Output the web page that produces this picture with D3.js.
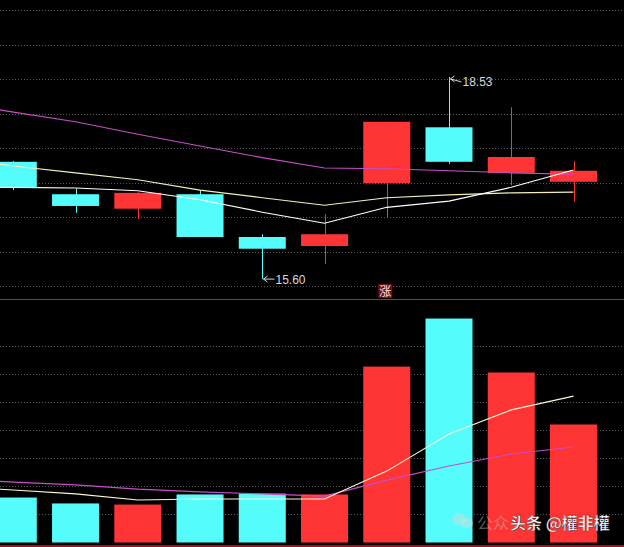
<!DOCTYPE html>
<html>
<head>
<meta charset="utf-8">
<script src="https://cdn.jsdelivr.net/npm/d3@7/dist/d3.min.js"></script>
<style>
  html, body { margin: 0; padding: 0; background: #000; }
  svg { display: block; }
</style>
</head>
<body>
<svg id="chart" width="624" height="547"></svg>
<script>
// ---- data ----
const days = [1, 2, 3, 4, 5, 6, 7, 8, 9, 10];
const openP  = [17.30, 16.83, 16.62, 16.83, 16.21, 16.08, 16.99, 17.80, 17.14, 17.01];
const closeP = [16.93, 16.66, 16.85, 16.21, 16.04, 16.25, 17.88, 17.30, 17.37, 17.17];
const highP  = [17.31, 16.91, 16.86, 16.89, 16.25, 16.54, 17.88, 18.53, 18.09, 17.31];
const lowP   = [16.89, 16.56, 16.47, 16.21, 15.60, 15.82, 16.50, 17.27, 16.96, 16.72];
const volume = [1.60, 1.39, 1.35, 1.71, 1.74, 1.71, 6.26, 7.97, 6.05, 4.20];
// moving averages: first value belongs to the day before the first visible one
const maDays = [0, 1, 2, 3, 4, 5, 6, 7, 8, 9, 10];
const ma5  = [16.93, 16.93, 16.92, 16.88, 16.75, 16.57, 16.41, 16.64, 16.73, 16.93, 17.18];
const ma10 = [17.36, 17.24, 17.14, 17.04, 16.89, 16.78, 16.67, 16.78, 16.82, 16.85, 16.86];
const ma20 = [18.17, 18.02, 17.88, 17.70, 17.53, 17.36, 17.21, 17.20, 17.17, 17.14, 17.12];
const volMa5  = [1.98, 1.87, 1.73, 1.51, 1.55, 1.55, 1.55, 2.54, 3.86, 4.72, 5.21];
const volMa10 = [2.26, 2.15, 2.05, 1.90, 1.80, 1.73, 1.65, 2.22, 2.72, 3.15, 3.40];
const priceTicks = [15.5, 16, 16.5, 17, 17.5, 18, 18.5, 19, 19.5];
const volTicks = [1, 2, 3, 4, 5, 6, 7];
const panelLabel = "涨";

// ---- drawing ----
const W = 624, H = 547;
const svg = d3.select("#chart");
svg.append("rect").attr("width", W).attr("height", H).attr("fill", "#000");

const x = d3.scaleLinear().domain([1, 10]).range([13.3, 573.5]);
const y = d3.scaleLinear().domain([15.5, 19.5]).range([286, 10]);
const yv = d3.scaleLinear().domain([0, 1]).range([542.5, 514.4]);
const bodyW = 47;
const UP = "#ff3434", DOWN = "#55fcfc";
const col = i => closeP[i] >= openP[i] ? UP : DOWN;

// grid
const gridColor = "#585858";
svg.append("g").selectAll("line").data(priceTicks).join("line")
  .attr("x1", 0).attr("x2", W)
  .attr("y1", d => Math.round(y(d)) + 0.5).attr("y2", d => Math.round(y(d)) + 0.5)
  .attr("stroke", gridColor).attr("stroke-dasharray", "1,2");
svg.append("g").selectAll("line").data(volTicks).join("line")
  .attr("x1", 0).attr("x2", W)
  .attr("y1", d => Math.round(yv(d)) + 0.5).attr("y2", d => Math.round(yv(d)) + 0.5)
  .attr("stroke", gridColor).attr("stroke-dasharray", "1,2");

// separators
svg.append("line").attr("x1", 0).attr("x2", W).attr("y1", 299.5).attr("y2", 299.5)
  .attr("stroke", "#c42222").attr("stroke-width", 1);
svg.append("line").attr("x1", 0).attr("x2", W).attr("y1", 546).attr("y2", 546)
  .attr("stroke", "#c42222").attr("stroke-width", 1.5);

// candles
const idx = d3.range(days.length);
const cg = svg.append("g");
cg.selectAll("line.wick").data(idx).join("line")
  .attr("x1", i => Math.round(x(days[i])) + 0.5).attr("x2", i => Math.round(x(days[i])) + 0.5)
  .attr("y1", i => y(highP[i])).attr("y2", i => y(lowP[i]))
  .attr("stroke", col).attr("stroke-width", 1);
cg.selectAll("rect.body").data(idx).join("rect")
  .attr("x", i => x(days[i]) - bodyW / 2)
  .attr("width", bodyW)
  .attr("y", i => y(Math.max(openP[i], closeP[i])))
  .attr("height", i => Math.max(1, Math.abs(y(openP[i]) - y(closeP[i]))))
  .attr("fill", col);

// price MA lines
const lineP = arr => d3.line().x((d, k) => x(maDays[k])).y(d => y(d))(arr);
svg.append("path").attr("d", lineP(ma20)).attr("fill", "none").attr("stroke", "#c84ec8").attr("stroke-width", 1.1);
svg.append("path").attr("d", lineP(ma10)).attr("fill", "none").attr("stroke", "#f4f0b8").attr("stroke-width", 1.1);
svg.append("path").attr("d", lineP(ma5)).attr("fill", "none").attr("stroke", "#ffffff").attr("stroke-width", 1.1);

// max / min annotations
const iMax = d3.maxIndex(highP), iMin = d3.minIndex(lowP);
function marker(i, val, dy) {
  const px = Math.round(x(days[i])) + 0.5, py = y(val);
  const g = svg.append("g").attr("stroke", "#d8d8d8").attr("stroke-width", 1).attr("fill", "none");
  g.append("path").attr("d", `M${px + 12},${py + dy} L${px + 1},${py + dy * 0.4}`);
  g.append("path").attr("d", `M${px + 5},${py + dy * 0.4 - 3} L${px + 1},${py + dy * 0.4} L${px + 5},${py + dy * 0.4 + 3}`);
  svg.append("text").attr("x", px + 13).attr("y", py + dy + 4.5)
    .attr("fill", "#d8d8d8").attr("font-family", "Liberation Sans, Arial, sans-serif")
    .attr("font-size", 12).text(val.toFixed(2));
}
marker(iMax, highP[iMax], 5);
marker(iMin, lowP[iMin], 0);

// volume bars
svg.append("g").selectAll("rect").data(idx).join("rect")
  .attr("x", i => x(days[i]) - bodyW / 2).attr("width", bodyW)
  .attr("y", i => yv(volume[i])).attr("height", i => yv(0) - yv(volume[i]))
  .attr("fill", col);

// volume MA lines
const lineV = arr => d3.line().x((d, k) => x(maDays[k])).y(d => yv(d))(arr);
svg.append("path").attr("d", lineV(volMa10)).attr("fill", "none").attr("stroke", "#c84ec8").attr("stroke-width", 1.1);
svg.append("path").attr("d", lineV(volMa5)).attr("fill", "none").attr("stroke", "#fbf8d0").attr("stroke-width", 1.1);

// label
const lg = svg.append("g");
lg.append("rect").attr("x", x(7) - 8.5).attr("y", 284).attr("width", 14).attr("height", 14).attr("fill", "#701010");
lg.append("text").attr("x", x(7) - 1.5).attr("y", 296).attr("text-anchor", "middle")
  .attr("font-family", "Noto Sans CJK SC, sans-serif").attr("font-size", 12)
  .attr("fill", "#ffe0e0").text(panelLabel);

// watermark
const wm = svg.append("g");
wm.append("ellipse").attr("cx", 459).attr("cy", 519).attr("rx", 7).attr("ry", 6).attr("fill", "rgba(220,220,220,0.45)");
wm.append("ellipse").attr("cx", 467).attr("cy", 523).attr("rx", 6).attr("ry", 5).attr("fill", "rgba(220,220,220,0.45)");
wm.append("text").attr("x", 477).attr("y", 529).attr("font-family", "Noto Sans CJK SC, sans-serif")
  .attr("font-size", 16).attr("fill", "rgba(200,200,200,0.45)").text("公众");
wm.append("text").attr("x", 510).attr("y", 529).attr("font-family", "Noto Sans CJK SC, sans-serif")
  .attr("font-size", 16).attr("font-weight", "bold").attr("fill", "#ffffff")
  .attr("stroke", "rgba(0,0,0,0.6)").attr("stroke-width", 0.6).text("头条 @權非權");
</script>
</body>
</html>
